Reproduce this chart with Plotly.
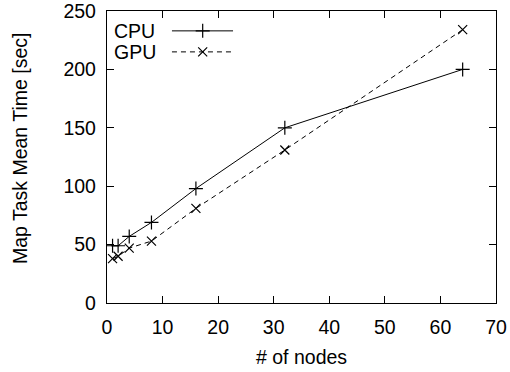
import plotly.graph_objects as go

nodes = [1, 2, 4, 8, 16, 32, 64]
cpu_time = [49, 49, 57, 69, 98, 150, 200]
gpu_time = [38, 40, 47, 53, 81, 131, 234]
x_ticks = [0, 10, 20, 30, 40, 50, 60, 70]
y_ticks = [0, 50, 100, 150, 200, 250]

FONT = "Liberation Sans, Arial, Helvetica, sans-serif"
FS = 19.5

fig = go.Figure()
fig.add_trace(go.Scatter(x=nodes, y=cpu_time, mode="lines+markers", name="CPU",
                         line=dict(color="black", width=1),
                         marker=dict(symbol="cross-thin", size=10, line=dict(color="black", width=1.2))))
fig.add_trace(go.Scatter(x=nodes, y=gpu_time, mode="lines+markers", name="GPU",
                         line=dict(color="black", width=1, dash="5px,4px"),
                         marker=dict(symbol="x-thin", size=9, line=dict(color="black", width=1.2))))

# legend samples (gnuplot style: text left, sample right)
leg_y = {"CPU": 0.932, "GPU": 0.860}
fig.add_trace(go.Scatter(x=[0.167, 0.324], y=[leg_y["CPU"]] * 2, mode="lines", xaxis="x2", yaxis="y2",
                         line=dict(color="black", width=1), showlegend=False, hoverinfo="skip"))
fig.add_trace(go.Scatter(x=[0.246], y=[leg_y["CPU"]], mode="markers", xaxis="x2", yaxis="y2",
                         marker=dict(symbol="cross-thin", size=10, line=dict(color="black", width=1.2)),
                         showlegend=False, hoverinfo="skip"))
fig.add_trace(go.Scatter(x=[0.167, 0.324], y=[leg_y["GPU"]] * 2, mode="lines", xaxis="x2", yaxis="y2",
                         line=dict(color="black", width=1, dash="5px,4px"), showlegend=False, hoverinfo="skip"))
fig.add_trace(go.Scatter(x=[0.246], y=[leg_y["GPU"]], mode="markers", xaxis="x2", yaxis="y2",
                         marker=dict(symbol="x-thin", size=9, line=dict(color="black", width=1.2)),
                         showlegend=False, hoverinfo="skip"))

for name, yy in leg_y.items():
    fig.add_annotation(text=name, x=0.013, y=yy, xref="paper", yref="paper", xanchor="left",
                       yanchor="middle", showarrow=False, font=dict(family=FONT, size=FS, color="black"))

# axis titles
fig.add_annotation(text="Map Task Mean Time [sec]", textangle=-90, x=-0.224, y=0.53,
                   xref="paper", yref="paper", xanchor="center", yanchor="middle", showarrow=False,
                   font=dict(family=FONT, size=FS, color="black"))
fig.add_annotation(text="# of nodes", x=0.5, y=-0.185,
                   xref="paper", yref="paper", xanchor="center", yanchor="middle", showarrow=False,
                   font=dict(family=FONT, size=FS, color="black"))

axis_common = dict(showline=True, linecolor="black", linewidth=1.3, mirror="ticks",
                   ticks="inside", ticklen=7, tickwidth=1, tickcolor="black",
                   showgrid=False, zeroline=False, automargin=False,
                   ticklabeloverflow="allow",
                   tickfont=dict(family=FONT, size=FS, color="black"))

fig.update_layout(
    width=510, height=372,
    margin=dict(l=107, r=14, t=11, b=69),
    paper_bgcolor="white", plot_bgcolor="white",
    showlegend=False,
    xaxis=dict(range=[0, 70], tickvals=x_ticks, ticklabelstandoff=6, **axis_common),
    yaxis=dict(range=[0, 250], tickvals=y_ticks, ticklabelstandoff=6, **axis_common),
    xaxis2=dict(range=[0, 1], overlaying="x", visible=False),
    yaxis2=dict(range=[0, 1], overlaying="y", visible=False),
)

fig.write_html("out.html")
